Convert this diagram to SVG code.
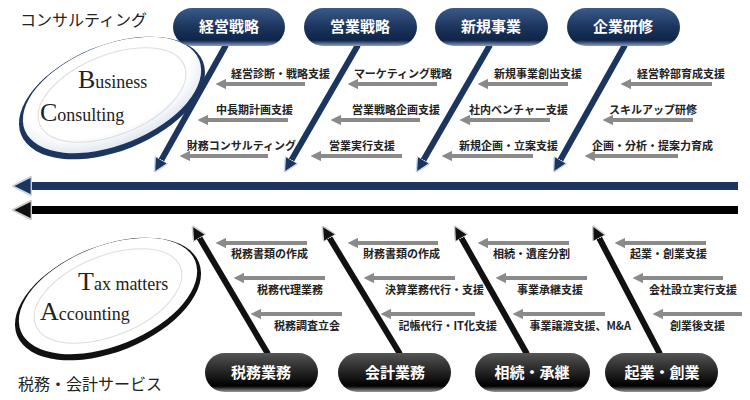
<svg xmlns="http://www.w3.org/2000/svg" width="750" height="400" viewBox="0 0 750 400">
<defs>
<linearGradient id="gb" x1="0" y1="0" x2="0" y2="1"><stop offset="0" stop-color="#3a5a88"/><stop offset="0.5" stop-color="#1c355e"/><stop offset="0.85" stop-color="#0f2448"/><stop offset="1" stop-color="#8aa0c4"/></linearGradient>
<linearGradient id="gk" x1="0" y1="0" x2="0" y2="1"><stop offset="0" stop-color="#555"/><stop offset="0.5" stop-color="#222"/><stop offset="0.85" stop-color="#000"/><stop offset="1" stop-color="#999"/></linearGradient>
<radialGradient id="eb" cx="0.5" cy="0.4" r="0.6"><stop offset="0.75" stop-color="#fff"/><stop offset="1" stop-color="#dfe6f0"/></radialGradient>
<marker id="ag" viewBox="0 0 10 10" refX="2" refY="5" markerWidth="2.6" markerHeight="2.6" orient="auto-start-reverse"><path d="M0,0L10,5L0,10z" fill="#8a8a8a"/></marker>
<marker id="ab" viewBox="0 0 10 10" refX="5" refY="5" markerWidth="2.4" markerHeight="2.4" orient="auto"><path d="M0,0L10,5L0,10z" fill="#1c355e" stroke="#c8d4e6" stroke-width="1"/></marker>
<marker id="ak" viewBox="0 0 10 10" refX="5" refY="5" markerWidth="2.4" markerHeight="2.4" orient="auto"><path d="M0,0L10,5L0,10z" fill="#111" stroke="#ccc" stroke-width="1"/></marker>
</defs>
<style>
.j{font-family:"Noto Sans CJK JP",sans-serif;font-weight:bold;font-size:11px;fill:#222}
.p{font-family:"Noto Sans CJK JP",sans-serif;font-weight:bold;font-size:15px;fill:#fff;text-anchor:middle}
.g{stroke:#8a8a8a;stroke-width:4;fill:none}
.s{font-family:"Liberation Serif","Noto Sans CJK JP",serif;fill:#222}
</style>
<rect width="750" height="400" fill="#fff"/>
<text class="s" x="20" y="26" font-size="16">コンサルティング</text>
<text class="s" x="18" y="390" font-size="16">税務・会計サービス</text>
<g id="ellipse-business">
<ellipse cx="112" cy="98" rx="98" ry="53" transform="rotate(-22 112 98)" fill="#1c355e"/>
<ellipse cx="112" cy="95" rx="94" ry="50" transform="rotate(-22 112 95)" fill="url(#eb)"/>
<ellipse cx="112" cy="95" rx="78" ry="40" transform="rotate(-22 112 95)" fill="none" stroke="#ddd"/>
<text class="s" x="78" y="88" font-size="18"><tspan font-size="26">B</tspan>usiness</text>
<text class="s" x="40" y="121" font-size="18"><tspan font-size="26">C</tspan>onsulting</text>
</g>
<g id="ellipse-tax">
<ellipse cx="108" cy="299" rx="98" ry="53" transform="rotate(-22 108 299)" fill="#111"/>
<ellipse cx="108" cy="296" rx="94" ry="50" transform="rotate(-22 108 296)" fill="#fff"/>
<ellipse cx="108" cy="296" rx="78" ry="40" transform="rotate(-22 108 296)" fill="none" stroke="#ddd"/>
<text class="s" x="78" y="290" font-size="18"><tspan font-size="26">T</tspan>ax matters</text>
<text class="s" x="40" y="320" font-size="18"><tspan font-size="26">A</tspan>ccounting</text>
</g>
<g id="connectors">
<line x1="738" y1="186" x2="22" y2="186" stroke="#1c355e" stroke-width="8" marker-end="url(#ab)"/>
<line x1="738" y1="210" x2="22" y2="210" stroke="#000" stroke-width="8" marker-end="url(#ak)"/>
<g stroke="#1c355e" stroke-width="6" marker-end="url(#ab)">
<line x1="226" y1="45" x2="158" y2="166"/><line x1="358" y1="45" x2="288" y2="166"/>
<line x1="490" y1="45" x2="420" y2="166"/><line x1="625" y1="45" x2="557" y2="166"/>
</g>
<g stroke="#111" stroke-width="6" marker-end="url(#ak)">
<line x1="268" y1="354" x2="196" y2="232"/><line x1="400" y1="354" x2="326" y2="232"/>
<line x1="527" y1="354" x2="458" y2="232"/><line x1="660" y1="354" x2="596" y2="232"/>
</g>
<g class="g" marker-end="url(#ag)">
<line x1="305" y1="84" x2="224" y2="84"/><line x1="288" y1="120" x2="206" y2="120"/><line x1="268" y1="156" x2="188" y2="156"/>
<line x1="437" y1="84" x2="356" y2="84"/><line x1="420" y1="120" x2="339" y2="120"/><line x1="402" y1="156" x2="319" y2="156"/>
<line x1="568" y1="84" x2="486" y2="84"/><line x1="550" y1="120" x2="468" y2="120"/><line x1="533" y1="156" x2="450" y2="156"/>
<line x1="712" y1="84" x2="629" y2="84"/><line x1="693" y1="120" x2="611" y2="120"/><line x1="678" y1="156" x2="593" y2="156"/>
<line x1="307" y1="243" x2="224" y2="243"/><line x1="325" y1="278" x2="242" y2="278"/><line x1="342" y1="314" x2="259" y2="314"/>
<line x1="438" y1="243" x2="356" y2="243"/><line x1="455" y1="278" x2="372" y2="278"/><line x1="475" y1="314" x2="389" y2="314"/>
<line x1="569" y1="243" x2="486" y2="243"/><line x1="587" y1="278" x2="504" y2="278"/><line x1="605" y1="314" x2="521" y2="314"/>
<line x1="706" y1="243" x2="623" y2="243"/><line x1="723" y1="278" x2="641" y2="278"/><line x1="742" y1="314" x2="661" y2="314"/>
</g>
</g>
<g id="labels-top" class="j" text-anchor="end">
<text x="330" y="78">経営診断・戦略支援</text><text x="293" y="114">中長期計画支援</text><text x="296" y="150">財務コンサルティング</text>
<text x="452" y="78">マーケティング戦略</text><text x="440" y="114">営業戦略企画支援</text><text x="395" y="150">営業実行支援</text>
<text x="582" y="78">新規事業創出支援</text><text x="568" y="114">社内ベンチャー支援</text><text x="558" y="150">新規企画・立案支援</text>
<text x="725" y="78">経営幹部育成支援</text><text x="697" y="114">スキルアップ研修</text><text x="713" y="150">企画・分析・提案力育成</text>
</g>
<g id="labels-bottom" class="j" text-anchor="end">
<text x="308" y="258">税務書類の作成</text><text x="323" y="294">税務代理業務</text><text x="340" y="330">税務調査立会</text>
<text x="440" y="258">財務書類の作成</text><text x="484" y="294">決算業務代行・支援</text><text x="497" y="330">記帳代行・IT化支援</text>
<text x="570" y="258">相続・遺産分割</text><text x="583" y="294">事業承継支援</text><text x="631" y="330">事業譲渡支援、M&amp;A</text>
<text x="707" y="258">起業・創業支援</text><text x="737" y="294">会社設立実行支援</text><text x="725" y="330">創業後支援</text>
</g>
<g id="node-keiei"><rect x="173" y="8" width="112" height="38" rx="19" fill="url(#gb)"/><text class="p" x="229" y="32">経営戦略</text></g>
<g id="node-eigyo"><rect x="304" y="8" width="113" height="38" rx="19" fill="url(#gb)"/><text class="p" x="360" y="32">営業戦略</text></g>
<g id="node-shinki"><rect x="435" y="8" width="113" height="38" rx="19" fill="url(#gb)"/><text class="p" x="491" y="32">新規事業</text></g>
<g id="node-kigyo-kenshu"><rect x="567" y="8" width="113" height="38" rx="19" fill="url(#gb)"/><text class="p" x="623" y="32">企業研修</text></g>
<g id="node-zeimu"><rect x="205" y="353" width="113" height="39" rx="19.5" fill="url(#gk)"/><text class="p" x="261" y="378">税務業務</text></g>
<g id="node-kaikei"><rect x="338" y="353" width="113" height="39" rx="19.5" fill="url(#gk)"/><text class="p" x="395" y="378">会計業務</text></g>
<g id="node-sozoku"><rect x="475" y="353" width="115" height="39" rx="19.5" fill="url(#gk)"/><text class="p" x="532" y="378">相続・承継</text></g>
<g id="node-kigyo"><rect x="605" y="353" width="113" height="39" rx="19.5" fill="url(#gk)"/><text class="p" x="662" y="378">起業・創業</text></g>
</svg>
